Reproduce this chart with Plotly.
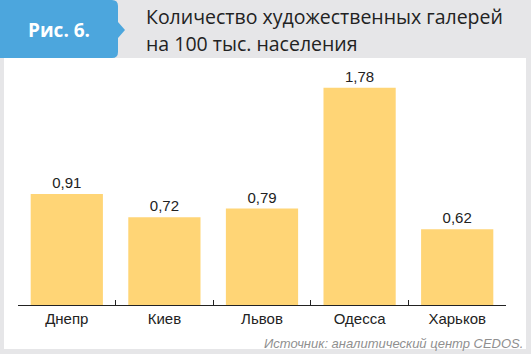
import plotly.graph_objects as go

cities = ["Днепр", "Киев", "Львов", "Одесса", "Харьков"]
values = [0.91, 0.72, 0.79, 1.78, 0.62]
title_lines = ["Количество художественных галерей", "на 100 тыс. населения"]
fig_label = "Рис. 6."
source = "Источник: аналитический центр CEDOS."

W, H = 531, 354
def px(x): return x / W
def py(y): return 1 - y / H

fig = go.Figure(go.Bar(
    x=cities, y=values,
    marker=dict(color="#ffd576", line=dict(width=0)),
    texttemplate="%{y:.2f}", textposition="outside",
    textfont=dict(size=15, color="#222", family="Liberation Sans, Arial"),
    cliponaxis=False, hoverinfo="skip",
))

bg = "#e6e6e8"
shapes = [
    dict(type="rect", xref="paper", yref="paper", x0=px(4), x1=px(526), y0=py(349), y1=py(58),
         fillcolor="white", line=dict(width=0), layer="below"),
    dict(type="path", xref="paper", yref="paper",
         path=f"M 0 {py(0)} L {px(112)} {py(0)} Q {px(118)} {py(0)} {px(118)} {py(6)} L {px(118)} {py(22)} "
              f"L {px(125)} {py(30)} L {px(118)} {py(38)} L {px(118)} {py(52)} Q {px(118)} {py(58)} {px(112)} {py(58)} "
              f"L 0 {py(58)} Z",
         fillcolor="#4ca6dd", line=dict(width=0), layer="below"),
]

annotations = [
    dict(text=f"<b>{fig_label}</b>", x=px(59), y=py(30), xref="paper", yref="paper",
         showarrow=False, font=dict(size=19, color="white", family="Open Sans, Liberation Sans"),
         xanchor="center", yanchor="middle"),
    dict(text=title_lines[0], x=px(144), y=py(17), xref="paper", yref="paper",
         showarrow=False, font=dict(size=19.5, color="#222", family="Open Sans, Liberation Sans"),
         xanchor="left", yanchor="middle"),
    dict(text=title_lines[1], x=px(144), y=py(44), xref="paper", yref="paper",
         showarrow=False, font=dict(size=19.5, color="#222", family="Open Sans, Liberation Sans"),
         xanchor="left", yanchor="middle"),
    dict(text=f"<i>{source}</i>", x=px(525), y=py(343), xref="paper", yref="paper",
         showarrow=False, font=dict(size=13, color="#8f8f8f", family="Liberation Sans, Arial"),
         xanchor="right", yanchor="middle"),
]

fig.update_layout(
    width=W, height=H,
    margin=dict(l=0, r=0, t=0, b=0),
    paper_bgcolor=bg, plot_bgcolor="rgba(0,0,0,0)",
    separators=",.",
    bargap=0.26,
    showlegend=False,
    shapes=shapes, annotations=annotations,
    xaxis=dict(domain=[px(18), px(506)], range=[-0.5, 4.5], tickson="boundaries",
               ticks="inside", ticklen=5, tickcolor="#222", tickwidth=1,
               showline=True, linecolor="#222", linewidth=1, showgrid=False,
               tickfont=dict(size=15, color="#222", family="Liberation Sans, Arial")),
    yaxis=dict(domain=[py(305), py(75)], range=[0, 1.885], visible=False, showgrid=False),
)

fig.write_html("out.html")
